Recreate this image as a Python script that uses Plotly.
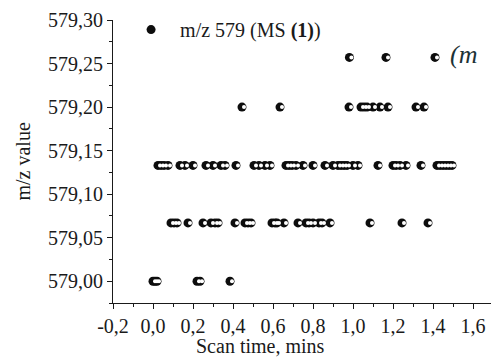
import plotly.graph_objects as go

# m/z levels (rows) and scan times (mins) observed at each level
mz_levels = [579.000, 579.067, 579.133, 579.200, 579.257]
times_579_000 = [0.00, 0.01, 0.02, 0.22, 0.235, 0.385]
times_579_067 = [0.09, 0.105, 0.12, 0.175, 0.25, 0.29, 0.31, 0.325, 0.41, 0.46, 0.475, 0.49,
                 0.595, 0.61, 0.62, 0.655, 0.725, 0.765, 0.78, 0.80, 0.83, 0.845, 0.885,
                 1.085, 1.245, 1.375]
times_579_133 = [0.025, 0.04, 0.055, 0.075, 0.135, 0.16, 0.20, 0.265, 0.30, 0.34, 0.36, 0.415,
                 0.505, 0.53, 0.56, 0.585, 0.665, 0.68, 0.695, 0.715, 0.75, 0.80, 0.86, 0.90,
                 0.925, 0.94, 0.955, 0.97, 1.00, 1.025, 1.125, 1.20, 1.215, 1.235, 1.265, 1.34,
                 1.42, 1.435, 1.45, 1.465, 1.48, 1.495]
times_579_200 = [0.445, 0.635, 0.98, 1.04, 1.055, 1.07, 1.10, 1.135, 1.175, 1.315, 1.355]
times_579_257 = [0.982, 1.165, 1.41]

x_tickvals = [-0.2, 0.0, 0.2, 0.4, 0.6, 0.8, 1.0, 1.2, 1.4, 1.6]
x_ticktext = ["-0,2", "0,0", "0,2", "0,4", "0,6", "0,8", "1,0", "1,2", "1,4", "1,6"]

rows = [times_579_000, times_579_067, times_579_133, times_579_200, times_579_257]
xs, ys = [], []
for level, times in zip(mz_levels, rows):
    xs += times
    ys += [level] * len(times)

FONT = "Liberation Serif, Times New Roman, serif"
INK = "#1a1a1a"

fig = go.Figure()
fig.add_trace(go.Scatter(
    x=xs, y=ys, mode="markers", name="m/z 579 (MS <b>(1)</b>)",
    marker=dict(symbol="circle", size=9, color="#0d0d0d", line=dict(width=0)),
    hoverinfo="skip", showlegend=True))
# white inner part, drawn on an overlaid axis shifted ~2px, gives the half-filled look
fig.add_trace(go.Scatter(
    x=xs, y=ys, mode="markers", xaxis="x2",
    marker=dict(symbol="circle", size=4, color="white", line=dict(width=0)),
    hoverinfo="skip", showlegend=False))

xr = [-0.2, 1.69]
shift = 0.01
axis_common = dict(showline=True, linecolor=INK, linewidth=1, ticks="outside",
                   ticklen=5, tickwidth=1, tickcolor=INK, showgrid=False, zeroline=False,
                   tickfont=dict(family=FONT, size=20, color=INK))
fig.update_layout(
    width=491, height=357,
    margin=dict(l=113, r=0, t=20, b=54),
    paper_bgcolor="white", plot_bgcolor="white",
    separators=",.",
    font=dict(family=FONT, color=INK),
    xaxis=dict(range=xr, tickmode="array", tickvals=x_tickvals, ticktext=x_ticktext,
               minor=dict(dtick=0.1, tick0=-0.2, ticks="outside", ticklen=3, tickcolor=INK),
               **axis_common),
    xaxis2=dict(range=[xr[0] - shift, xr[1] - shift], overlaying="x", anchor="y",
                showline=False, showticklabels=False, ticks="", showgrid=False,
                zeroline=False),
    yaxis=dict(range=[578.975, 579.30], tick0=579.0, dtick=0.05, tickformat=".2f",
               minor=dict(dtick=0.025, ticks="outside", ticklen=3, tickcolor=INK),
               **axis_common),
    legend=dict(x=0.024, y=1.035, xanchor="left", yanchor="top", bgcolor="rgba(0,0,0,0)",
                itemwidth=48,
                font=dict(family=FONT, size=20, color=INK)),
    annotations=[
        dict(text="Scan time, mins", xref="paper", yref="paper", x=0.39, y=0,
             yshift=-43, xanchor="center", yanchor="middle", showarrow=False,
             font=dict(family=FONT, size=20, color=INK)),
        dict(text="m/z value", xref="paper", yref="paper", x=0, xshift=-91, y=0.5,
             textangle=-90, xanchor="center", yanchor="middle", showarrow=False,
             font=dict(family=FONT, size=20, color=INK)),
        dict(text="<i>(m</i>", xref="paper", yref="paper", x=0.885, y=0.877,
             xanchor="left", yanchor="middle", showarrow=False,
             font=dict(family=FONT, size=26, color="#1c3236")),
    ],
)
fig.write_html("out.html")
